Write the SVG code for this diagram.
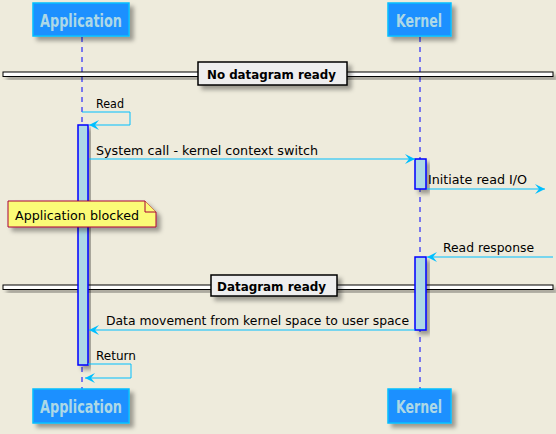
<svg xmlns="http://www.w3.org/2000/svg" width="556" height="434" viewBox="0 0 556 434">
<style>
.bg{fill:#EEEBDC}
.part rect{fill:#1E90FF;stroke:#00BFFF;stroke-width:1.5}
.part text{font-family:"DejaVu Sans Condensed","DejaVu Sans",sans-serif;font-weight:bold;font-size:17px;fill:#ADD8E6}
.life{stroke:#0000FF;stroke-width:1;stroke-dasharray:5,5;fill:none}
.act{fill:#ADD8E6;stroke:#0000FF;stroke-width:1.5}
.msg{fill:none;stroke:#00BFFF;stroke-width:1}
.lbl{font-family:"DejaVu Sans",sans-serif;font-size:13px;fill:#000}
.div-line{fill:#FFFFFF;stroke:#000;stroke-width:1}
.div-box{fill:#EEEEEE;stroke:#000;stroke-width:1.5}
.div-text{font-family:"DejaVu Sans",sans-serif;font-size:13px;font-weight:bold;fill:#000}
.note{fill:#FBFB77;stroke:#A80036;stroke-width:1}
</style>
<defs>
<filter id="sh" x="-20%" y="-20%" width="150%" height="180%">
<feDropShadow dx="4" dy="4" stdDeviation="2" flood-color="#000" flood-opacity="0.35"/>
</filter>
<marker id="ah" viewBox="0 0 10 10" refX="10" refY="5" markerUnits="userSpaceOnUse" markerWidth="11" markerHeight="10" orient="auto">
<path d="M0,0 L10,5 L0,10 L4,5 Z" fill="#00BFFF"/>
</marker>
</defs>
<rect class="bg" x="0" y="0" width="556" height="434"/>

<g id="lifelines">
<line class="life" x1="82" y1="37" x2="82" y2="389"/>
<line class="life" x1="420" y1="37" x2="420" y2="389"/>
</g>

<g id="divider-no-datagram">
<rect class="div-line" x="3" y="72" width="550" height="4.5" filter="url(#sh)"/>
<rect class="div-box" x="198" y="62" width="149" height="23" filter="url(#sh)"/>
<text class="div-text" x="207" y="79" textLength="129" lengthAdjust="spacingAndGlyphs">No datagram ready</text>
</g>

<g id="divider-datagram-ready">
<rect class="div-line" x="3" y="285" width="550" height="4.5" filter="url(#sh)"/>
<rect class="div-box" x="211" y="275" width="126" height="21" filter="url(#sh)"/>
<text class="div-text" x="217" y="291" textLength="109" lengthAdjust="spacingAndGlyphs">Datagram ready</text>
</g>

<g id="activation-app">
<rect class="act" x="78" y="125" width="10" height="240" filter="url(#sh)"/>
</g>
<g id="activation-kernel-1">
<rect class="act" x="415" y="159" width="11" height="30" filter="url(#sh)"/>
</g>
<g id="activation-kernel-2">
<rect class="act" x="415" y="257" width="11" height="73" filter="url(#sh)"/>
</g>

<g id="participant-application-top" class="part">
<rect x="33" y="3" width="96" height="33" filter="url(#sh)"/>
<text x="40" y="27" textLength="82" lengthAdjust="spacingAndGlyphs">Application</text>
</g>
<g id="participant-kernel-top" class="part">
<rect x="388" y="3" width="63" height="33" filter="url(#sh)"/>
<text x="396" y="27" textLength="46" lengthAdjust="spacingAndGlyphs">Kernel</text>
</g>
<g id="participant-application-bottom" class="part">
<rect x="33" y="389" width="96" height="34" filter="url(#sh)"/>
<text x="40" y="413" textLength="82" lengthAdjust="spacingAndGlyphs">Application</text>
</g>
<g id="participant-kernel-bottom" class="part">
<rect x="388" y="389" width="63" height="34" filter="url(#sh)"/>
<text x="396" y="413" textLength="46" lengthAdjust="spacingAndGlyphs">Kernel</text>
</g>

<g id="note-application-blocked">
<path class="note" d="M8,201 H145 L156,212 V227 H8 Z" filter="url(#sh)"/>
<path class="note" d="M145,201 V212 H156" fill="none"/>
<text class="lbl" x="15" y="220" textLength="124" lengthAdjust="spacingAndGlyphs">Application blocked</text>
</g>

<g id="connectors">
<path class="msg" d="M82,112 H130 V125 H89" marker-end="url(#ah)"/>
<text class="lbl" x="96" y="108" textLength="28" lengthAdjust="spacingAndGlyphs">Read</text>
<path class="msg" d="M89,159 H415" marker-end="url(#ah)"/>
<text class="lbl" x="96" y="155" textLength="222" lengthAdjust="spacingAndGlyphs">System call - kernel context switch</text>
<path class="msg" d="M427,189 H545" marker-end="url(#ah)"/>
<text class="lbl" x="428" y="184" textLength="99" lengthAdjust="spacingAndGlyphs">Initiate read I/O</text>
<path class="msg" d="M553,257 H427" marker-end="url(#ah)"/>
<text class="lbl" x="443" y="252" textLength="91" lengthAdjust="spacingAndGlyphs">Read response</text>
<path class="msg" d="M415,330 H89" marker-end="url(#ah)"/>
<text class="lbl" x="106" y="325" textLength="303" lengthAdjust="spacingAndGlyphs">Data movement from kernel space to user space</text>
<path class="msg" d="M88,364 H131 V378 H85" marker-end="url(#ah)"/>
<text class="lbl" x="96" y="360" textLength="40" lengthAdjust="spacingAndGlyphs">Return</text>
</g>
</svg>
